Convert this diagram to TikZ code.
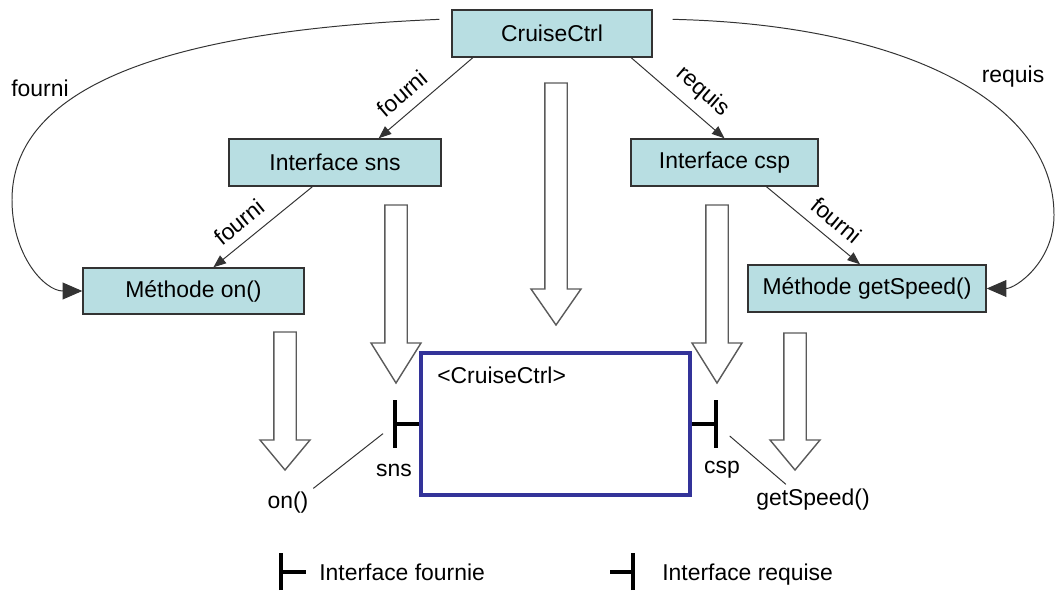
\documentclass[tikz,border=0pt]{standalone}
\usepackage{fontspec}
\setmainfont{Liberation Sans}
\usetikzlibrary{arrows.meta, calc}
\definecolor{elemfill}{RGB}{184,222,226}
\definecolor{elemline}{RGB}{51,51,51}
\definecolor{compblue}{RGB}{51,51,153}
\definecolor{hollowgray}{RGB}{90,90,90}

\tikzset{
  elem/.style={draw=elemline, fill=elemfill, line width=1pt, inner sep=0pt,
               minimum height=1.175cm},
  link/.style={draw=elemline, line width=0.7pt, -{Triangle[length=9pt, width=7pt]}},
  bendlink/.style={draw=elemline, line width=0.7pt, -{Triangle[length=14pt, width=12pt]}},
  hollow/.style={draw=hollowgray, line width=1pt, fill=white},
  port/.style={draw=black, line width=3.2pt},
  tag/.style={sloped, above=7pt, pos=0.62, inner sep=0pt},
}

\begin{document}
\begin{tikzpicture}[font=\fontsize{16.3}{19.5}\selectfont]
        \useasboundingbox (0,0) rectangle (26.45,15.025);
        % elements
        \node[elem, minimum width=5cm] (ctrl) at (13.8,14.1875) {CruiseCtrl};
        \node[elem, minimum width=5.3cm] (isns) at (8.375,10.9625) {Interface sns};
        \node[elem, minimum width=4.675cm] (icsp) at (18.1125,10.9625) {Interface csp};
        \node[elem, minimum width=5.525cm, minimum height=1.15cm] (mon)
          at (4.8375,7.75) {Méthode on()};
        \node[elem, minimum width=5.95cm] (mget) at (21.675,7.8125) {Méthode getSpeed()};
        % links between elements
        \draw[link] (ctrl.197) -- node[tag] {fourni} (isns.29);
        \draw[link] (ctrl.-17) -- node[tag] {requis} (icsp.north);
        \draw[link] (isns.227) -- node[tag] {fourni} (mon.50);
        \draw[link] (icsp.-30) -- node[tag] {fourni} (mget.106);
        % long bends
        \coordinate (lbend) at (0.3,10.025);
        \coordinate (rbend) at (26.35,9.65);
        \draw[bendlink] ([xshift=-0.3cm]ctrl.172) .. controls +(-4.75,-0.2) and +(0,3.5) .. (lbend)
          .. controls +(0,-1.375) and +(-0.95,0) .. (mon.west);
        \draw[bendlink] ([xshift=0.5cm]ctrl.8) .. controls +(5.675,-0.125) and +(0,2.875) .. (rbend)
          .. controls +(0,-1.175) and +(0.725,0) .. (mget.east);
        \node (lfourni) at (1.0,12.825) {fourni};
        \node (rrequis) at (25.325,13.1) {requis};
        % hollow arrows
        \foreach \ax/\at/\ah/\ap in {13.9/12.95/7.8/6.9, 9.9/9.9/6.45/5.45,
            17.925/9.9/6.45/5.45, 7.125/6.725/4.025/3.275, 19.875/6.7/4.025/3.275}
          \draw[hollow] (\ax-0.28,\at) -- (\ax+0.28,\at) -- (\ax+0.28,\ah) -- (\ax+0.625,\ah)
            -- (\ax,\ap) -- (\ax-0.625,\ah) -- (\ax-0.28,\ah) -- cycle;
        % component
        \node[draw=compblue, line width=2.5pt, minimum width=6.725cm, minimum height=3.55cm]
          (comp) at (13.8875,4.425) {};
        \node[anchor=west, inner sep=0pt] (compname) at (10.925,5.65) {<CruiseCtrl>};
        % ports
        \draw[port] (comp.west) -- ++(-0.6,0) coordinate (snsp);
        \draw[port] ([yshift=-0.59cm]snsp) -- ([yshift=0.59cm]snsp);
        \draw[port] (comp.east) -- ++(0.6,0) coordinate (cspp);
        \draw[port] ([yshift=-0.59cm]cspp) -- ([yshift=0.59cm]cspp);
        \node (snsname) at (9.85,3.275) {sns};
        \node (cspname) at (18.05,3.275) {csp};
        \node (onname) at (7.2,2.45) {on()};
        \node (getname) at (20.325,2.525) {getSpeed()};
        \draw[draw=elemline, line width=0.7pt, shorten >=0.39cm] (onname.30) -- (snsp);
        \draw[draw=elemline, line width=0.7pt, shorten <=0.46cm] (cspp) -- (getname.150);
        % legend
        \draw[port] (7.025,0.275) -- (7.025,1.2);
        \draw[port] (7.025,0.725) -- (7.65,0.725);
        \node[anchor=base west, inner sep=0pt] (legprov) at (7.975,0.525) {Interface fournie};
        \draw[port] (15.825,0.275) -- (15.825,1.2);
        \draw[port] (15.25,0.725) -- (15.825,0.725);
        \node[anchor=base west, inner sep=0pt] (legreq) at (16.55,0.525) {Interface requise};
      \end{tikzpicture}
\end{document}
